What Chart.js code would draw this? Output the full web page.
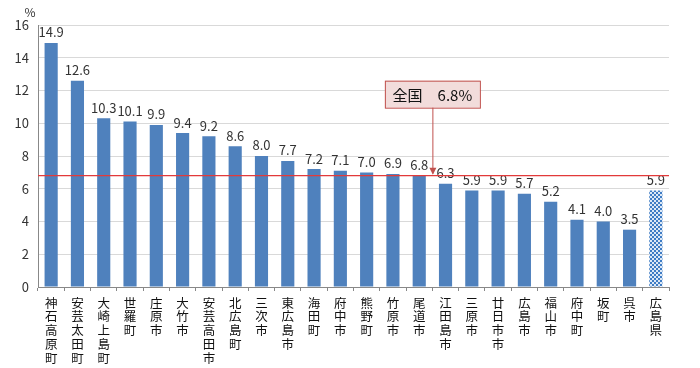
<!DOCTYPE html>
<html lang="ja">
<head>
    <meta charset="UTF-8">
    <title>市町別 割合</title>
    <script src="https://cdn.jsdelivr.net/npm/chart.js"></script>
    <style>
        body { margin: 0; padding: 0; background: #fff; }
        .wrap { width: 700px; height: 368px; }
    </style>
</head>
<body>
    <div class="wrap"><canvas id="rateChart"></canvas></div>
    <script>
        // data
        const areas = ['神石高原町', '安芸太田町', '大崎上島町', '世羅町', '庄原市', '大竹市', '安芸高田市', '北広島町',
            '三次市', '東広島市', '海田町', '府中市', '熊野町', '竹原市', '尾道市', '江田島市', '三原市', '廿日市市',
            '広島市', '福山市', '府中町', '坂町', '呉市', '広島県'];
        const rates = [14.9, 12.6, 10.3, 10.1, 9.9, 9.4, 9.2, 8.6, 8.0, 7.7, 7.2, 7.1, 7.0, 6.9, 6.8, 6.3, 5.9, 5.9,
            5.7, 5.2, 4.1, 4.0, 3.5, 5.9];
        const nationalRate = 6.8;
        const nationalLabel = '全国　6.8%';
        const yTicks = [0, 2, 4, 6, 8, 10, 12, 14, 16];

        const FONT = '"Noto Sans CJK JP", "Noto Sans", sans-serif';
        const BLUE = '#4f81bd';

        // checkered fill for the prefecture bar
        function checkerPattern() {
            const c = document.createElement('canvas');
            c.width = 4; c.height = 4;
            const g = c.getContext('2d');
            g.fillStyle = '#dce8f6';
            g.fillRect(0, 0, 4, 4);
            g.fillStyle = '#3f7cc4';
            g.fillRect(0, 0, 2, 2);
            g.fillRect(2, 2, 2, 2);
            return g.createPattern(c, 'repeat');
        }

        const barColors = areas.map((a, i) => i === areas.length - 1 ? checkerPattern() : BLUE);

        const extras = {
            id: 'extras',
            afterDatasetsDraw(chart) {
                const ctx = chart.ctx;
                const x = chart.scales.x, y = chart.scales.y;
                const area = chart.chartArea;
                const meta = chart.getDatasetMeta(0);
                ctx.save();
                // value labels
                ctx.font = '13px ' + FONT;
                ctx.fillStyle = '#333';
                ctx.textAlign = 'center';
                ctx.textBaseline = 'bottom';
                meta.data.forEach((bar, i) => {
                    ctx.fillText(rates[i].toFixed(1), bar.x, bar.y - 4);
                });
                // national line
                const ly = y.getPixelForValue(nationalRate);
                ctx.strokeStyle = '#e23a3a';
                ctx.lineWidth = 1.4;
                ctx.beginPath();
                ctx.moveTo(area.left, ly);
                ctx.lineTo(area.right, ly);
                ctx.stroke();
                // callout box
                const cx = (x.getPixelForValue(14) + x.getPixelForValue(15)) / 2;
                const bw = 95, bh = 27;
                const by = y.getPixelForValue(12.6);
                ctx.fillStyle = '#f2dcdb';
                ctx.fillRect(cx - bw / 2, by, bw, bh);
                ctx.strokeStyle = '#c0504d';
                ctx.lineWidth = 1;
                ctx.strokeRect(cx - bw / 2 + 0.5, by + 0.5, bw, bh);
                ctx.fillStyle = '#111';
                ctx.font = '15px ' + FONT;
                ctx.textBaseline = 'middle';
                ctx.fillText(nationalLabel, cx, by + bh / 2 + 1);
                // arrow
                ctx.beginPath();
                ctx.moveTo(cx + 0.5, by + bh);
                ctx.lineTo(cx + 0.5, ly - 2);
                ctx.stroke();
                ctx.fillStyle = '#c0504d';
                ctx.beginPath();
                ctx.moveTo(cx + 0.5, ly - 1);
                ctx.lineTo(cx - 3, ly - 8);
                ctx.lineTo(cx + 4, ly - 8);
                ctx.closePath();
                ctx.fill();
                // unit
                ctx.fillStyle = '#333';
                ctx.font = '12px ' + FONT;
                ctx.textAlign = 'center';
                ctx.fillText('%', area.left - 8, 12);
                ctx.restore();
            }
        };

        new Chart(document.getElementById('rateChart'), {
            type: 'bar',
            data: {
                labels: areas.map(a => a.split('')),
                datasets: [{
                    data: rates,
                    backgroundColor: barColors,
                    barPercentage: 0.5,
                    categoryPercentage: 1
                }]
            },
            options: {
                responsive: true,
                maintainAspectRatio: false,
                animation: false,
                layout: { padding: { left: 0, right: 31, top: 25, bottom: 0 } },
                plugins: { legend: { display: false }, tooltip: { enabled: false } },
                scales: {
                    x: {
                        afterFit: s => { s.height = 81; },
                        grid: { offset: true, drawOnChartArea: false, drawTicks: true, tickLength: 4, color: '#888' },
                        border: { color: '#888' },
                        ticks: {
                            autoSkip: false, maxRotation: 0, minRotation: 0, padding: 5,
                            color: '#111', font: { family: FONT, size: 12.5, lineHeight: 1.1 }
                        }
                    },
                    y: {
                        min: 0, max: 16,
                        afterFit: s => { s.width = 38; },
                        afterBuildTicks: s => { s.ticks = yTicks.map(v => ({ value: v })); },
                        grid: { color: '#d9d9d9', drawTicks: false },
                        border: { color: '#888' },
                        ticks: { padding: 9, color: '#333', font: { family: FONT, size: 13 } }
                    }
                }
            },
            plugins: [extras]
        });
    </script>
</body>
</html>
